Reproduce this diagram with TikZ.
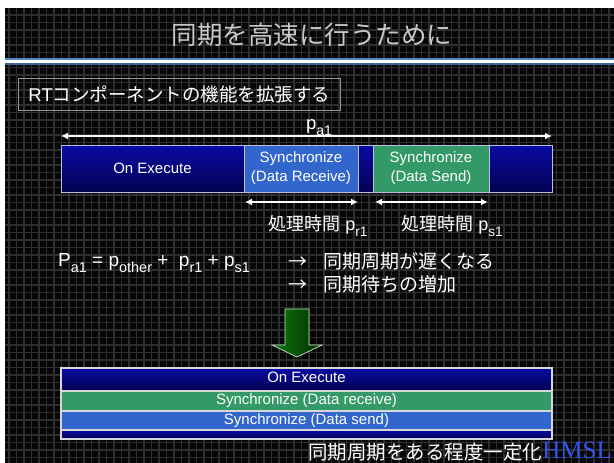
\documentclass[tikz,border=0pt]{standalone}
\usepackage{fontspec}
\usepackage{graphicx}
\setmainfont{Liberation Sans}
\newfontfamily\jp{Noto Sans CJK JP}
\newfontfamily\tms{Liberation Serif}
\usetikzlibrary{arrows.meta}
\definecolor{navyA}{RGB}{10,10,165}
\definecolor{navyB}{RGB}{2,2,80}
\definecolor{syncblue}{RGB}{51,102,204}
\definecolor{syncgreen}{RGB}{51,153,102}
\definecolor{barline}{RGB}{190,190,225}
\definecolor{sepline}{RGB}{215,215,215}
\definecolor{gridc}{RGB}{46,46,46}
\definecolor{bgc}{RGB}{6,6,6}
\definecolor{titlec}{RGB}{200,200,200}
\definecolor{stripeA}{RGB}{85,135,190}
\definecolor{stripeB}{RGB}{60,100,150}
\definecolor{hmslc}{RGB}{51,85,238}
\definecolor{arrGa}{RGB}{15,120,15}
\definecolor{arrGb}{RGB}{0,45,0}
\definecolor{arrline}{RGB}{200,230,200}
\definecolor{boxline}{RGB}{150,150,150}
\newcommand\lo[1]{\raisebox{-0.36em}{\scalebox{0.76}{#1}}}
\begin{document}
\begin{tikzpicture}[x=1pt,y=-1pt,
  seg/.style={draw=barline, line width=0.8pt, inner sep=0pt, outer sep=0pt,
    anchor=north west, text=white, align=center,
    font=\fontsize{15}{19}\selectfont},
  navyfill/.style={top color=navyA, bottom color=navyB},
  band/.style={seg, draw=sepline, line width=1.2pt, minimum width=491pt},
  wtext/.style={text=white, inner sep=0pt},
  dimarrow/.style={white, line width=2pt, {Latex[length=7pt,width=7pt]}-{Latex[length=7pt,width=7pt]}}
]
\useasboundingbox (0,0) rectangle (614,463);
\fill[white] (0,0) rectangle (614,463);
\fill[bgc] (5,8) rectangle (614,463);
% grid
\begin{scope}
\clip (5,8) rectangle (614,463);
\foreach \gx in {9,16.5,...,614} \draw[gridc, line width=1.3pt] (\gx,8) -- (\gx,463);
\foreach \gy in {15,22.5,...,463} \draw[gridc, line width=1.3pt] (5,\gy) -- (614,\gy);
\end{scope}
% title
\node[anchor=base, text=titlec, inner sep=0pt, font=\jp\fontsize{25.5}{25.5}\selectfont] (title) at (312,45) {同期を高速に行うために};
\fill[stripeA] (5,58.3) rectangle (614,60.2);
\fill[white] (5,60.2) rectangle (614,62.6);
\fill[stripeB] (5,62.6) rectangle (614,64.8);
% RT box
\node[draw=boxline, line width=0.8pt, minimum width=322pt, minimum height=32pt, inner sep=0pt,
  anchor=north west, text=white, font=\fontsize{18.5}{20}\selectfont] (rtbox) at (18,78)
  {RT{\jp コンポーネントの機能を拡張する}};
% p_a1 dimension
\node[wtext, anchor=base, font=\fontsize{18.5}{20}\selectfont] (pa1) at (319,129) {p\lo{a1}};
\coordinate (paL) at (61,136);
\coordinate (paR) at (552,136);
\draw[dimarrow] (paL) -- (paR);
% top bar
\node[seg, navyfill, minimum width=183pt, minimum height=47pt] (exec1) at (61,145) {On Execute};
\node[seg, fill=syncblue, minimum width=114pt, minimum height=47pt] (recv1) at (244,145) {Synchronize\\(Data Receive)};
\node[seg, navyfill, minimum width=15pt, minimum height=47pt] (gap1) at (358,145) {};
\node[seg, fill=syncgreen, minimum width=116pt, minimum height=47pt] (send1) at (373,145) {Synchronize\\(Data Send)};
\node[seg, navyfill, minimum width=63pt, minimum height=47pt] (tail1) at (489,145) {};
% processing time arrows
\coordinate (rL) at (245,202);
\coordinate (rR) at (358,202);
\coordinate (sL) at (375,202);
\coordinate (sR) at (488,202);
\draw[dimarrow] (rL) -- (rR);
\draw[dimarrow] (sL) -- (sR);
\node[wtext, anchor=base, font=\fontsize{18}{20}\selectfont] (pr1) at (318,230) {{\jp 処理時間} p\lo{r1}};
\node[wtext, anchor=base, font=\fontsize{18}{20}\selectfont] (ps1) at (452,230) {{\jp 処理時間} p\lo{s1}};
% formula
\node[wtext, anchor=base west, font=\fontsize{19}{20}\selectfont] (formula) at (58,266)
  {P\lo{a1} = p\lo{other} + \ p\lo{r1} + p\lo{s1}};
\node[wtext, anchor=base west, font=\jp\fontsize{19}{20}\selectfont] (res1) at (288,268) {→\hspace{16pt}同期周期が遅くなる};
\node[wtext, anchor=base west, font=\jp\fontsize{19}{20}\selectfont] (res2) at (288,291) {→\hspace{16pt}同期待ちの増加};
% green block arrow
\draw[draw=arrline, line width=0.7pt, left color=arrGa, right color=arrGb]
  (285,309) -- (309,309) -- (309,345) -- (322,345) -- (297,357) -- (272,345) -- (285,345) -- cycle;
% bottom bar
\node[band, navyfill, minimum height=23pt, text height=11pt, text depth=5pt] (exec2) at (61,368) {On Execute};
\node[band, fill=syncgreen, minimum height=20pt] (recv2) at (61,391) {Synchronize (Data receive)};
\node[band, fill=syncblue, minimum height=19pt] (send2) at (61,411) {Synchronize (Data send)};
\node[band, navyfill, minimum height=9pt] (tail2) at (61,430) {};
% conclusion
\node[wtext, anchor=base, font=\jp\fontsize{19.5}{20}\selectfont] (concl) at (425,459) {同期周期をある程度一定化};
\node[anchor=base east, inner sep=0pt, text=hmslc, font=\tms\fontsize{25}{25}\selectfont] (hmsl) at (612,458) {HMSL};
\end{tikzpicture}
\end{document}
